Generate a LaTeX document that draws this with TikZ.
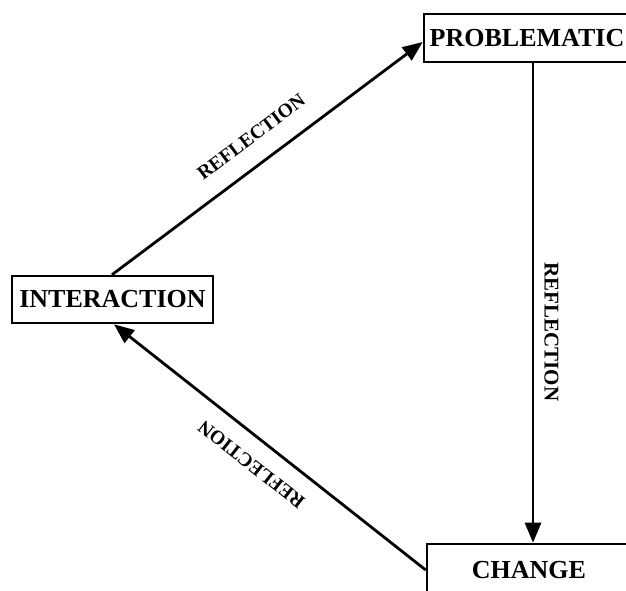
\documentclass[tikz,border=0pt]{standalone}
\usepackage{fontspec}
\setmainfont{Liberation Serif}
\usetikzlibrary{arrows.meta}
\begin{document}
\begin{tikzpicture}[x=1pt,y=1pt,
  box/.style={draw, line width=2.6pt, inner sep=0pt, font=\fontsize{26}{26}\selectfont\bfseries},
  conn/.style={line width=2.8pt, -{Triangle[length=20pt,width=16pt]}},
  lbl/.style={font=\fontsize{19.5}{19.5}\selectfont\bfseries, anchor=south, inner sep=0pt}]
\useasboundingbox (0,0) rectangle (626,590);
\clip (0,0) rectangle (626,590);
% nodes (y = 590 - pixel y)
\node[box, minimum width=206pt, minimum height=48pt] (prob) at (527,552) {PROBLEMATIC};
\node[box, minimum width=201pt, minimum height=47pt] (inter) at (112.5,290.5) {INTERACTION};
\node[box, minimum width=204pt, minimum height=52pt] (chg) at (529,20) {CHANGE};
% connectors
\coordinate (a1) at (112,314);
\coordinate (a2) at (424,548);
\draw[conn] (inter.north -| a1) -- (prob.west |- a2)
  node[lbl, pos=0.5, rotate=36.9, yshift=19pt] (l1) {REFLECTION};
\coordinate (b1) at (533,528);
\draw[conn] (prob.south -| b1) -- (chg.north -| b1)
  node[lbl, pos=0.56, rotate=-90, yshift=10pt, font=\fontsize{21}{21}\selectfont\bfseries] (l2) {REFLECTION};
\coordinate (c1) at (427,20);
\coordinate (c2) at (114,265);
\draw[conn] (chg.west |- c1) -- (inter.south -| c2)
  node[lbl, pos=0.51, rotate=142, yshift=17pt] (l3) {REFLECTION};
\end{tikzpicture}
\end{document}
